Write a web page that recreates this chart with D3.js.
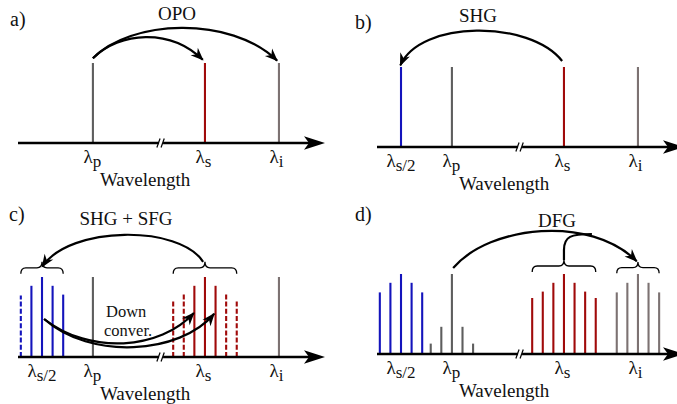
<!DOCTYPE html>
<html>
<head>
<meta charset="utf-8">
<script src="https://cdn.jsdelivr.net/npm/d3@7"></script>
<style>
  body { margin: 0; background: #fff; }
  svg { display: block; }
  text { font-family: 'Liberation Serif', 'Times New Roman', serif; fill: #111; }
</style>
</head>
<body>
<svg id="fig" width="677" height="404"></svg>
<script>
// Schematic positions along a broken wavelength axis (arb. units, 0..100)
const lambdaPos = { sh: 7.82, p: 24.4, s: 60.9, i: 85.0 };
const breakPos = 46.6;
const combStep = 3.45;
const wavelengthLabelPos = 41.4;

// Relative line strengths (1 = full height)
const opoHeights = [1, 1, 1];                       // pump, signal, idler
const shgHeights = [1, 1, 1, 1];                    // s/2, pump, signal, idler
const shCombC = [0.77, 0.89, 1, 0.89, 0.78];
const shDashC = [true, false, false, false, false];
const sigCombC = [0.70, 0.78, 0.89, 1, 0.89, 0.78, 0.70];
const sigDashC = [true, true, false, false, false, true, true];
const shCombD = [0.77, 0.89, 1, 0.89, 0.77];
const pumpCombD = [0.13, 0.34, 1, 0.34, 0.13];
const sigCombD = [0.70, 0.78, 0.89, 1, 0.89, 0.78, 0.70];
const idlCombD = [0.77, 0.89, 1, 0.89, 0.77];

// Axis tick labels
const lambdaLabels = { sh: ['λ', 's/2'], p: ['λ', 'p'], s: ['λ', 's'], i: ['λ', 'i'] };

const colors = { sh: '#1414bc', p: '#5e5e5e', s: '#a00a0a', i: '#7c7272' };

const svg = d3.select('#fig');
const defs = svg.append('defs');
defs.append('marker')
  .attr('id', 'tip')
  .attr('viewBox', '-14 -6 16 12')
  .attr('markerUnits', 'userSpaceOnUse')
  .attr('markerWidth', 16).attr('markerHeight', 12)
  .attr('refX', -1).attr('refY', 0)
  .attr('orient', 'auto')
  .append('path')
  .attr('d', 'M0,0 L-13,-5.2 L-9,0 L-13,5.2 Z')
  .attr('fill', '#000');

function single(keys, heights) {
  return keys.map((k, j) => ({ key: k, pos: lambdaPos[k], h: heights[j], dashed: false }));
}
function comb(key, heights, dashed) {
  const c = (heights.length - 1) / 2;
  return heights.map((h, k) => ({
    key, pos: lambdaPos[key] + (k - c) * combStep, h, dashed: dashed ? dashed[k] : false
  }));
}
function combSpan(key, n) {
  const c = (n - 1) / 2;
  return [lambdaPos[key] - c * combStep, lambdaPos[key] + c * combStep];
}

function drawPanel(cfg) {
  const x = d3.scaleLinear().domain([0, 100]).range([cfg.x0, cfg.x0 + 307]);
  const y = d3.scaleLinear().domain([0, 1]).range([cfg.axisY, cfg.axisY - 80]);
  const g = svg.append('g');

  // spectral lines
  g.selectAll('line.peak').data(cfg.peaks).join('line')
    .attr('class', 'peak')
    .attr('x1', d => x(d.pos)).attr('x2', d => x(d.pos))
    .attr('y1', y(0)).attr('y2', d => y(d.h))
    .attr('stroke', d => colors[d.key])
    .attr('stroke-width', 2.1)
    .attr('stroke-dasharray', d => d.dashed ? '5,2.2' : null);

  // wavelength axis with arrow
  const x1 = x(100), y0 = y(0);
  g.append('line')
    .attr('x1', x(0)).attr('x2', x1 - 12)
    .attr('y1', y0).attr('y2', y0)
    .attr('stroke', '#000').attr('stroke-width', 2.6);
  g.append('path')
    .attr('d', `M${x1},${y0} L${x1 - 21},${y0 - 6.8} L${x1 - 16},${y0} L${x1 - 21},${y0 + 6.8} Z`)
    .attr('fill', '#000');

  // axis break
  const xb = x(breakPos);
  g.append('rect').attr('x', xb - 2).attr('y', y0 - 2).attr('width', 4).attr('height', 4).attr('fill', '#fff');
  [-2.6, 1.6].forEach(o => {
    g.append('line')
      .attr('x1', xb + o - 1.6).attr('y1', y0 + 4.5)
      .attr('x2', xb + o + 1.6).attr('y2', y0 - 4.5)
      .attr('stroke', '#000').attr('stroke-width', 1.2);
  });

  // tick labels
  cfg.labels.forEach(k => {
    const t = g.append('text')
      .attr('y', y0 + 20)
      .attr('font-size', 19);
    if (k === 'sh') t.attr('x', x(lambdaPos[k])).attr('text-anchor', 'middle');
    else t.attr('x', x(lambdaPos[k]) - 9.5);
    t.append('tspan').text(lambdaLabels[k][0]);
    t.append('tspan').attr('dy', 4).attr('font-size', 17).text(lambdaLabels[k][1]);
  });
  g.append('text')
    .attr('x', x(wavelengthLabelPos)).attr('y', y0 + 42.5)
    .attr('text-anchor', 'middle').attr('font-size', 19)
    .text('Wavelength');

  // panel letter and process name
  g.append('text').attr('x', cfg.letterX).attr('y', cfg.letterY).attr('font-size', 20).text(cfg.letter);
  g.append('text').attr('x', cfg.titleX).attr('y', cfg.titleY)
    .attr('text-anchor', 'middle').attr('font-size', 19).text(cfg.title);

  // braces over line groups
  (cfg.braces || []).forEach(b => {
    const xa = x(b.span[0]), xz = x(b.span[1]), xm = (xa + xz) / 2;
    const ye = y(b.v0), yt = y(b.v1), yb = (ye + yt) / 2, r = 5;
    g.append('path')
      .attr('d', `M${xa},${ye} Q${xa},${yb} ${xa + r},${yb} L${xm - r},${yb} Q${xm},${yb} ${xm},${yt}` +
                 ` Q${xm},${yb} ${xm + r},${yb} L${xz - r},${yb} Q${xz},${yb} ${xz},${ye}`)
      .attr('fill', 'none').attr('stroke', '#000').attr('stroke-width', 1.3);
  });

  // conversion arrows (cubic curves in data coordinates)
  (cfg.arrows || []).forEach(a => {
    const p = a.pts.map(([u, v]) => [x(u), y(v)]);
    let d = `M${p[0][0]},${p[0][1]}`;
    let i = 1;
    if (a.lineFirst) { d += ` L${p[1][0]},${p[1][1]}`; i = 2; }
    d += ` C${p[i][0]},${p[i][1]} ${p[i + 1][0]},${p[i + 1][1]} ${p[i + 2][0]},${p[i + 2][1]}`;
    const path = g.append('path').attr('d', d)
      .attr('fill', 'none').attr('stroke', '#000').attr('stroke-width', 2.2);
    if (!a.noHead) path.attr('marker-end', 'url(#tip)');
  });

  // free text
  (cfg.notes || []).forEach(n => {
    g.append('text').attr('x', n.x).attr('y', n.y).attr('font-size', n.size || 19).text(n.text);
  });
}

// a) OPO
drawPanel({
  x0: 18, axisY: 143,
  peaks: single(['p', 's', 'i'], opoHeights),
  labels: ['p', 's', 'i'],
  letter: 'a)', letterX: 10, letterY: 26,
  title: 'OPO', titleX: 177, titleY: 20,
  arrows: [
    { pts: [[lambdaPos.p, 1.06], [36.5, 1.54], [69.1, 1.6], [84.4, 1.03]] },
    { pts: [[lambdaPos.p, 1.06], [33.2, 1.39], [49.5, 1.44], [60.2, 1.04]] }
  ]
});

// b) SHG
drawPanel({
  x0: 377, axisY: 147,
  peaks: single(['sh', 'p', 's', 'i'], shgHeights),
  labels: ['sh', 'p', 's', 'i'],
  letter: 'b)', letterX: 355, letterY: 29,
  title: 'SHG', titleX: 478, titleY: 22,
  arrows: [
    { pts: [[60.3, 1.075], [49.8, 1.59], [14.0, 1.59], [7.6, 1.02]] }
  ]
});

// c) SHG + SFG with down-conversion
drawPanel({
  x0: 18, axisY: 357,
  peaks: [].concat(
    comb('sh', shCombC, shDashC),
    single(['p', 'i'], [1, 1]),
    comb('s', sigCombC, sigDashC)),
  labels: ['sh', 'p', 's', 'i'],
  letter: 'c)', letterX: 9, letterY: 221,
  title: 'SHG + SFG', titleX: 126, titleY: 225,
  braces: [
    { span: combSpan('sh', shCombC.length), v0: 1.04, v1: 1.19 },
    { span: combSpan('s', sigCombC.length), v0: 1.04, v1: 1.19 }
  ],
  arrows: [
    { pts: [[60.3, 1.19], [52.8, 1.65], [17.0, 1.65], [7.9, 1.13]] },
    { pts: [[8.5, 0.475], [23.5, 0.025], [46.3, 0.09], [57.3, 0.55]] },
    { pts: [[8.5, 0.475], [23.5, -0.04], [52.8, 0.03], [63.9, 0.54]] }
  ],
  notes: [
    { text: 'Down', x: 106, y: 316.5, size: 16.5 },
    { text: 'conver.', x: 104, y: 336, size: 16.5 }
  ]
});

// d) DFG
drawPanel({
  x0: 377, axisY: 354,
  peaks: [].concat(
    comb('sh', shCombD),
    comb('p', pumpCombD),
    comb('s', sigCombD),
    comb('i', idlCombD)),
  labels: ['sh', 'p', 's', 'i'],
  letter: 'd)', letterX: 355, letterY: 221,
  title: 'DFG', titleX: 557, titleY: 227,
  braces: [
    { span: combSpan('s', sigCombD.length), v0: 1.025, v1: 1.175 },
    { span: combSpan('i', idlCombD.length), v0: 1.01, v1: 1.15 }
  ],
  arrows: [
    { pts: [[24.8, 1.075], [36.8, 1.61], [69.4, 1.74], [84.6, 1.16]] },
    { noHead: true, lineFirst: true,
      pts: [[lambdaPos.s, 1.175], [lambdaPos.s, 1.3], [lambdaPos.s, 1.47], [63.2, 1.5], [70.0, 1.5]] }
  ]
});
</script>
</body>
</html>
